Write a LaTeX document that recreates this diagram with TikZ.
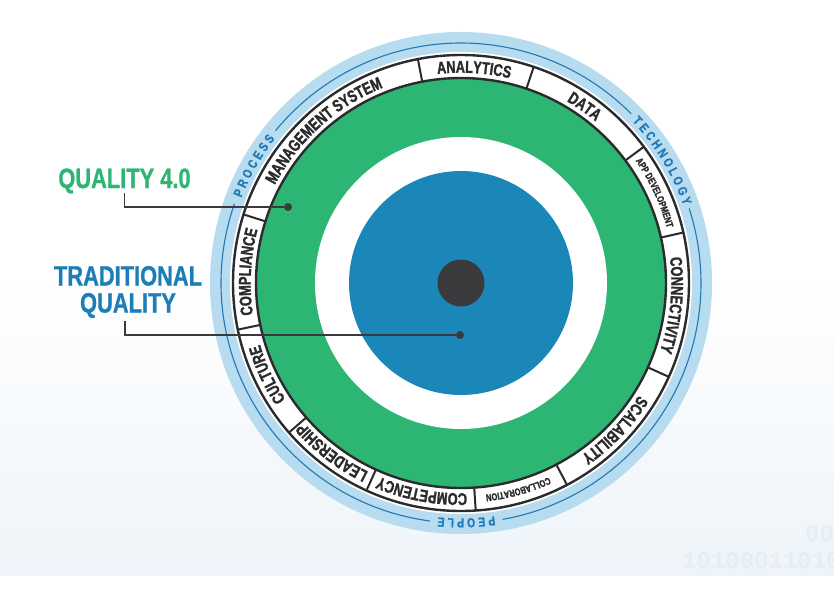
\documentclass[tikz,border=0pt]{standalone}
\usepackage{fontspec}
\setmainfont{Liberation Sans}
\newfontfamily\condfont{Liberation Sans}[FakeStretch=0.78, FakeBold=0.8]
\newfontfamily\ringfnt{Liberation Sans}[FakeStretch=0.75, FakeBold=1.5]
\newfontfamily\trackfnt{Liberation Sans}[FakeStretch=0.8, FakeBold=0.8]
\newfontfamily\bitsfnt{Liberation Mono}
\usepackage{tikz}
\usetikzlibrary{
  positioning,
  decorations.text,
  calc
}
\definecolor{qgreen}{HTML}{2DB673}
\definecolor{qblue}{HTML}{1B86B8}
\definecolor{tblue}{HTML}{1C7EB6}
\definecolor{lineblue}{HTML}{1F7AB8}
\definecolor{ltband}{HTML}{B7DBEF}
\definecolor{ringdark}{HTML}{2B2B2B}
\definecolor{hubdark}{HTML}{3A3A3C}
\definecolor{bgblue}{HTML}{EEF4F9}
\definecolor{bitsgray}{HTML}{E6EEF4}
\tikzset{
  ringline/.style={
    draw=ringdark,
    line width=2.4pt,
  },
  divider/.style={
    ringdark,
    line width=2pt,
  },
  arcline/.style={
    draw=lineblue,
    line width=1.1pt,
  },
  leader/.style={
    draw=hubdark,
    line width=1.8pt,
  },
  leaderdot/.style={
    circle,
    fill=hubdark,
    inner sep=0pt,
    minimum size=8pt,
  },
  callout/.style={
    font=\condfont\bfseries\fontsize{28}{27}\selectfont,
    align=center,
    inner sep=0pt,
  },
  bits/.style={
    font=\bitsfnt\bfseries\fontsize{24}{24}\selectfont,
    text=bitsgray,
    inner sep=0pt,
  },
}
\newcommand{\ringbig}{\ringfnt\bfseries\fontsize{17}{17}\selectfont\color{ringdark}}
\newcommand{\ringsmall}{\ringfnt\bfseries\fontsize{10}{10}\selectfont\color{ringdark}}
\newcommand{\arcword}{\trackfnt\bfseries\fontsize{13}{13}\selectfont\color{lineblue}}
\newcommand{\ringlabel}[4][\ringbig]{%
  \path[decorate, decoration={text along path, text align=center,
      text={|#1|#4}}]
    ({#2+45}:#3) arc[start angle={#2+45}, end angle={#2-45}, radius=#3];}

\begin{document}
\begin{tikzpicture}[x=1pt, y=1pt]
  \def\rgreen{205}
  \def\rring{228}
  \def\rwhite{231}
  \def\rband{251}
  \def\rarc{240}

  \useasboundingbox (-461,-317) rectangle (373,283);

  % background
  \fill[white] (-461,-317) rectangle (373,283);
  \shade[top color=white, bottom color=bgblue] (-461,-292) rectangle (373,10);
  \node[bits, anchor=base west] (bitsa) at (344,-258) {0011};
  \node[bits, anchor=base west] (bitsb) at (221,-285) {101000110101};

  % rings
  \fill[ltband] (0,0) circle (\rband);
  \fill[white] (0,0) circle (\rwhite);
  \draw[ringline, fill=white] (0,0) circle (\rring);
  \draw[ringline, fill=qgreen] (0,0) circle (\rgreen);
  \foreach \a in {162.5,100.9,71.4,36.7,12.8,-24.3,-62.3,-86.3,-114.5,-139,-168.2}
    \draw[divider] (\a:\rgreen) -- (\a:\rring);
  \fill[white] (0,0) circle (146);
  \fill[qblue] (0,0) circle (112);
  \node[circle, fill=hubdark, minimum size=47pt, inner sep=0pt] (hub) at (0,0) {};

  % ring texts
  \ringlabel{132}{210.3}{MANAGEMENT SYSTEM}
  \ringlabel{86.5}{210.3}{ANALYTICS}
  \ringlabel{55}{210.3}{DATA}
  \ringlabel[\ringsmall]{25}{213}{APP DEVELOPMENT}
  \ringlabel{-6}{210.3}{CONNECTIVITY}
  \ringlabel{-43.7}{210.3}{SCALABILITY}
  \ringlabel[\ringsmall]{-74.5}{213}{COLLABORATION}
  \ringlabel{-100.6}{210.3}{COMPETENCY}
  \ringlabel{-127.3}{210.3}{LEADERSHIP}
  \ringlabel{-154.7}{210.3}{CULTURE}
  \ringlabel{177}{210.3}{COMPLIANCE}

  % outer arc with words
  \draw[arcline] (44.8:\rarc) arc[start angle=44.8, end angle=140.6, radius=\rarc];
  \draw[arcline] (160.7:\rarc) arc[start angle=160.7, end angle=262.6, radius=\rarc];
  \draw[arcline] (-80:\rarc) arc[start angle=-80, end angle=18.1, radius=\rarc];
  \ringlabel[\arcword]{150.5}{235.5}{P R O C E S S}
  \ringlabel[\arcword]{31.3}{235.5}{T E C H N O L O G Y}
  \ringlabel[\arcword]{-88.7}{235.5}{P E O P L E}

  % callouts
  \node[callout, text=qgreen, anchor=base] (q40) at (-336.5,95) {QUALITY 4.0};
  \node[callout, text=tblue] (tq) at (-333,-9) {TRADITIONAL\\QUALITY};
  \node[leaderdot] (q40dot) at (-173,76) {};
  \node[leaderdot] (tqdot) at (-1,-52) {};
  \draw[leader] ([yshift=-5pt]q40.base) |- (q40dot);
  \draw[leader] ([xshift=-3pt,yshift=-3pt]tq.south) |- (tqdot);
\end{tikzpicture}
\end{document}
